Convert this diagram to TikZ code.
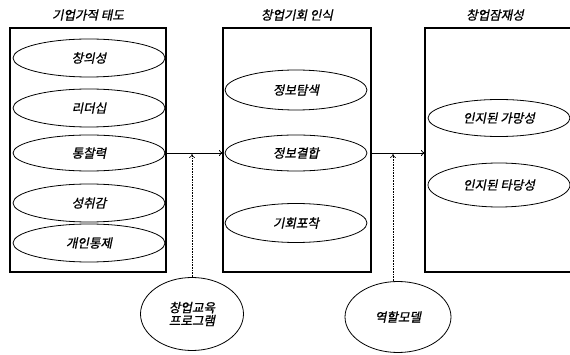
\documentclass[tikz,border=0pt]{standalone}
\usepackage{fontspec}
\newfontfamily\kr[FakeSlant=0.2,FakeBold=1.2]{Noto Sans CJK KR}
\usetikzlibrary{shapes.geometric,arrows.meta}
\tikzset{
  bigbox/.style={draw, line width=1.6pt, rectangle, inner sep=0pt},
  oval/.style={draw, line width=0.8pt, ellipse, inner sep=0pt, font=\kr\fontsize{12.5}{15}\selectfont, align=center},
  ttl/.style={font=\kr\fontsize{12.5}{15}\selectfont},
  conn/.style={-{To[length=4pt,width=6pt]}, line width=0.8pt},
  dconn/.style={-{To[length=4pt,width=6pt]}, line width=0.6pt, densely dotted},
}
\begin{document}
\begin{tikzpicture}[x=1pt,y=-1pt]
\useasboundingbox (0,0) rectangle (570,355);
\clip (0,0) rectangle (570,355);
\fill[white] (0,0) rectangle (570,355);
% boxes
\node[bigbox, minimum width=156pt, minimum height=244pt] (b1) at (88,150) {};
\node[bigbox, minimum width=148pt, minimum height=244pt] (b2) at (297,150) {};
\node[bigbox, minimum width=175pt, minimum height=244pt] (b3) at (512.5,150) {};
% titles
\node[ttl] (t1) at (88,15) {기업가적 태도};
\node[ttl] (t2) at (297,15) {창업기회 인식};
\node[ttl] (t3) at (495,15) {창업잠재성};
% box 1 ellipses
\node[oval, minimum width=152pt, minimum height=38pt] (e11) at (89,58) {창의성};
\node[oval, minimum width=152pt, minimum height=38pt] (e12) at (89,108) {리더십};
\node[oval, minimum width=152pt, minimum height=36pt] (e13) at (89,153) {통찰력};
\node[oval, minimum width=152pt, minimum height=38pt] (e14) at (89,203) {성취감};
\node[oval, minimum width=152pt, minimum height=38pt] (e15) at (89,243) {개인통제};
% box 2 ellipses
\node[oval, minimum width=142pt, minimum height=40pt] (e21) at (296,90) {정보탐색};
\node[oval, minimum width=142pt, minimum height=36pt] (e22) at (296,153) {정보결합};
\node[oval, minimum width=142pt, minimum height=39pt] (e23) at (296,223) {기회포착};
% box 3 ellipses
\node[oval, minimum width=142pt, minimum height=37pt] (e31) at (499,118) {인지된 가망성};
\node[oval, minimum width=142pt, minimum height=44pt] (e32) at (499,185) {인지된 타당성};
% moderators
\node[oval, minimum width=103pt, minimum height=73pt] (m1) at (192,314) {창업교육\\[-2pt]프로그램};
\node[oval, minimum width=106pt, minimum height=71pt] (m2) at (398,317) {역할모델};
% connectors
\coordinate (a1) at (166,153);
\coordinate (a2) at (223,153);
\coordinate (a3) at (371,153);
\coordinate (a4) at (425,153);
\coordinate (p1) at (192,154);
\coordinate (p2) at (393,154);
\draw[conn] (a1) -- (a2);
\draw[conn] (a3) -- (a4);
\draw[dconn] (m1.north) -- (p1);
\draw[dconn] (m2.north -| p2) -- (p2);
\end{tikzpicture}
\end{document}
